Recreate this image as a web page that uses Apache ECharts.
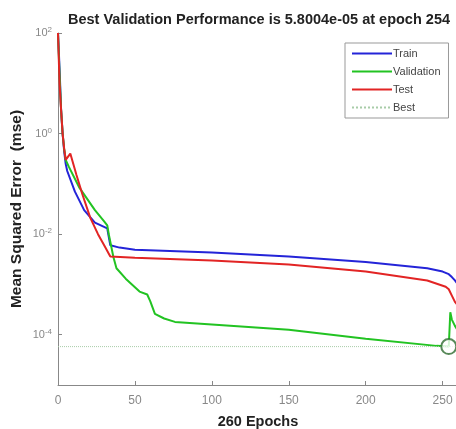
<!DOCTYPE html>
<html>
<head>
<meta charset="utf-8">
<script src="https://cdn.jsdelivr.net/npm/echarts@6/dist/echarts.min.js"></script>
<style>
  html, body { margin: 0; padding: 0; background: #fff; }
  #chart { width: 456px; height: 429px; }
</style>
</head>
<body>
<div id="chart"></div>
<script>
// epoch, mse pairs
var trainPerf = [
  [0, 100], [1, 20], [2, 3], [3, 1], [4, 0.45], [5, 0.25], [6, 0.18],
  [11, 0.07], [17, 0.03], [24, 0.017], [32, 0.013], [34, 0.006], [40, 0.0054],
  [50, 0.0049], [100, 0.0043], [150, 0.0036], [200, 0.0028], [240, 0.0021],
  [250, 0.0018], [254, 0.0016], [256, 0.0014], [258, 0.0012], [260, 0.001]
];
var valPerf = [
  [0, 100], [1, 15], [2, 3], [3, 1], [4, 0.5], [5, 0.3], [7, 0.22],
  [14, 0.083], [24, 0.03], [30, 0.018], [32, 0.015], [33, 0.01], [36, 0.0035],
  [38, 0.0021], [44, 0.0013], [53, 0.00072], [58, 0.00063], [60, 0.00046],
  [63, 0.00026], [69, 0.00021], [76, 0.00018], [100, 0.00016], [150, 0.000125],
  [200, 0.000083], [246, 0.00006], [254, 5.8004e-5], [255, 0.00028],
  [256, 0.0002], [258, 0.00015], [260, 0.00012]
];
var testPerf = [
  [0, 100], [1, 10], [2, 3], [3, 1], [4, 0.5], [5, 0.3], [8, 0.4],
  [12, 0.15], [16, 0.06], [21, 0.021], [26, 0.01], [30, 0.006], [34, 0.0036],
  [50, 0.0034], [100, 0.003], [150, 0.0025], [200, 0.0018], [240, 0.0012],
  [252, 0.0009], [254, 0.0008], [256, 0.0006], [258, 0.00045], [260, 0.00038]
];
var bestEpoch = 254;
var bestPerf = 5.8004e-5;
var totalEpochs = 260;
var xTicks = [0, 50, 100, 150, 200, 250];
var yTicks = [1e-4, 1e-2, 1, 100];

var chart = echarts.init(document.getElementById('chart'));
var font = 'Liberation Sans, Arial, sans-serif';

var option = {
  backgroundColor: '#fff',
  animation: false,
  title: {
    text: 'Best Validation Performance is 5.8004e-05 at epoch ' + bestEpoch,
    left: 254,
    top: 7,
    textAlign: 'center',
    textStyle: { fontFamily: font, fontSize: 14.5, fontWeight: 'bold', color: '#222' }
  },
  legend: {
    orient: 'vertical',
    left: 345,
    top: 43,
    padding: [5, 8, 5, 6],
    itemGap: 7,
    itemWidth: 40,
    itemHeight: 8,
    backgroundColor: '#fff',
    borderColor: '#999',
    borderWidth: 1,
    itemStyle: { opacity: 0 },
    data: ['Train', 'Validation', 'Test', 'Best'],
    textStyle: { fontFamily: font, fontSize: 11, color: '#444', padding: [0, 0, 0, -4] }
  },
  grid: { left: 58, top: 33, width: 400, height: 352, outerBoundsMode: 'none' },
  xAxis: {
    type: 'value',
    min: 0,
    max: totalEpochs,
    name: totalEpochs + ' Epochs',
    nameLocation: 'middle',
    nameGap: 29,
    nameMoveOverlap: false,
    nameTextStyle: { fontFamily: font, fontSize: 14.5, fontWeight: 'bold', color: '#222' },
    axisLine: { lineStyle: { color: '#888' } },
    axisTick: { inside: true, length: 4, customValues: xTicks, lineStyle: { color: '#888' } },
    axisLabel: { customValues: xTicks, fontFamily: font, fontSize: 12, color: '#888', margin: 10 },
    splitLine: { show: false }
  },
  yAxis: {
    type: 'log',
    logBase: 10,
    min: 1e-5,
    max: 100,
    name: 'Mean Squared Error  (mse)',
    nameLocation: 'middle',
    nameGap: 33,
    nameMoveOverlap: false,
    nameTextStyle: { fontFamily: font, fontSize: 15.5, fontWeight: 'bold', color: '#222' },
    axisLine: { show: true, lineStyle: { color: '#888' } },
    axisTick: { show: true, inside: true, length: 4, customValues: yTicks, lineStyle: { color: '#888' } },
    axisLabel: {
      customValues: yTicks,
      fontFamily: font,
      fontSize: 11,
      color: '#888',
      margin: 6,
      formatter: function (v) {
        var e = Math.round(Math.log10(v));
        return '10{sup|' + e + '}';
      },
      rich: { sup: { fontSize: 8, verticalAlign: 'top', padding: [0, 0, 6, 0], color: '#888' } }
    },
    splitLine: { show: false }
  },
  series: [
    {
      name: 'Train', type: 'line', data: trainPerf, symbol: 'none',
      itemStyle: { color: '#2424d8' }, lineStyle: { color: '#2424d8', width: 2 }
    },
    {
      name: 'Validation', type: 'line', data: valPerf, symbol: 'none',
      itemStyle: { color: '#22c322' }, lineStyle: { color: '#22c322', width: 2 }
    },
    {
      name: 'Test', type: 'line', data: testPerf, symbol: 'none',
      itemStyle: { color: '#e22424' }, lineStyle: { color: '#e22424', width: 2 }
    },
    {
      name: 'Best', type: 'line', data: [[0, bestPerf], [totalEpochs, bestPerf]], symbol: 'none',
      itemStyle: { color: '#a8cca8' }, lineStyle: { color: '#a8cca8', width: 1, type: 'dotted' }
    },
    {
      name: 'bestPoint', type: 'scatter', data: [[bestEpoch, bestPerf]],
      symbol: 'emptyCircle', symbolSize: 15,
      itemStyle: { color: '#2e6b30', borderColor: '#2e6b30', borderWidth: 1.5 }, z: 5
    }
  ]
};

option && chart.setOption(option);
</script>
</body>
</html>
